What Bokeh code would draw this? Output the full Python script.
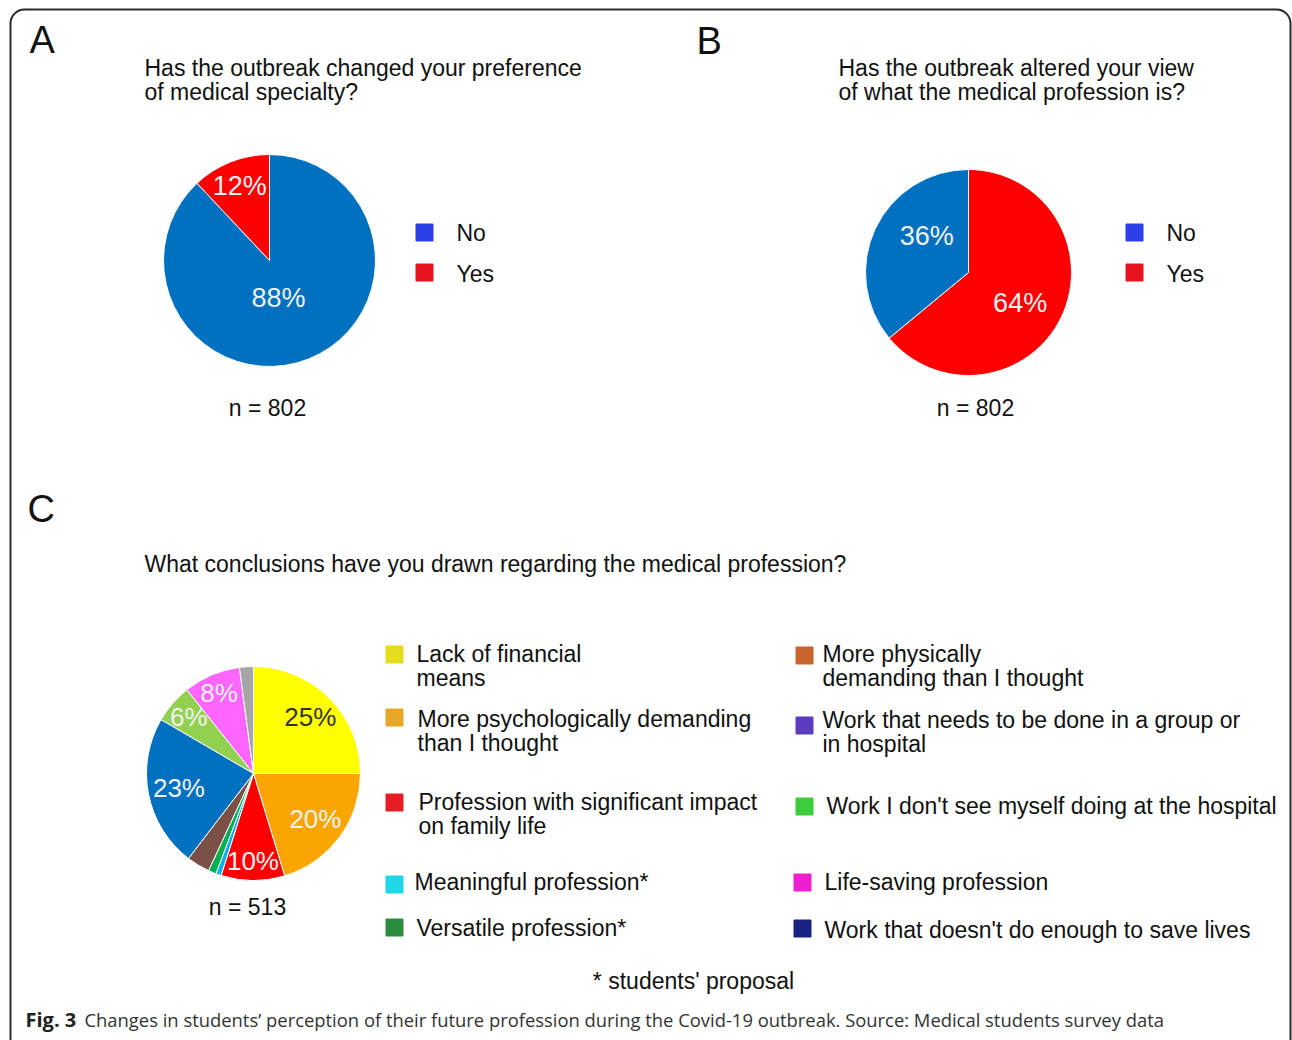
import numpy as np
from bokeh.plotting import figure
from bokeh.models import Range1d
from bokeh.core.properties import value
from bokeh.embed import file_html
from bokeh.resources import INLINE

# ---------------- data ----------------
a_title = ["Has the outbreak changed your preference", "of medical specialty?"]
b_title = ["Has the outbreak altered your view", "of what the medical profession is?"]
c_title = "What conclusions have you drawn regarding the medical profession?"

ab_cats = ["No", "Yes"]
a_values = [88, 12]
b_values = [36, 64]
a_n = "n = 802"
b_n = "n = 802"

c_cats = [
    "Lack of financial\nmeans",
    "More psychologically demanding\nthan I thought",
    "Profession with significant impact\non family life",
    "Meaningful profession*",
    "Versatile profession*",
    "More physically\ndemanding than I thought",
    "Work that needs to be done in a group or\nin hospital",
    "Work I don't see myself doing at the hospital",
    "Life-saving profession",
    "Work that doesn't do enough to save lives",
]
c_values = [25.0, 20.3, 9.6, 0.8, 1.2, 3.5, 23.0, 5.9, 8.6, 2.1]
c_labels = ["25%", "20%", "10%", "", "", "", "23%", "6%", "8%", ""]
c_n = "n = 513"
footnote = "* students' proposal"
caption_bold = "Fig. 3"
caption_text = ("Changes in students\u2019 perception of their future profession during the "
                "Covid-19 outbreak. Source: Medical students survey data")

# ---------------- styles ----------------
ab_pie_colors = ["#0070c0", "#ff0000"]
ab_leg_colors = ["#2d3fe6", "#e5141e"]
c_pie_colors = ["#ffff00", "#fba600", "#ff0000", "#00b0f0", "#00b050",
                "#7b5046", "#0070c0", "#92d050", "#ff66ff", "#a6a6a6"]
c_leg_colors = ["#e6dc1e", "#e8a628", "#e81c24", "#1ed8ea", "#2a8c3c",
                "#c8642e", "#5c3cbe", "#3ccc3c", "#f01ed2", "#1a2282"]

FONT = value("Liberation Sans")
TXT = "#111111"
FS = "23px"

W, H = 1292, 1040
p = figure(width=W, height=H, x_range=Range1d(0, W), y_range=Range1d(-H, 0),
           output_backend="svg", toolbar_location=None, min_border=0,
           x_axis_location=None, y_axis_location=None, background_fill_color="white",
           border_fill_color="white", outline_line_color=None)
p.grid.visible = False


def draw_pie(cx, cy, r, values, colors, labels, fracs, nudges, lab_colors, fsize):
    v = np.array(values, dtype=float)
    f = v / v.sum()
    cum = np.concatenate([[0.0], np.cumsum(f)])
    start = np.pi / 2 - 2 * np.pi * cum[:-1]
    end = np.pi / 2 - 2 * np.pi * cum[1:]
    p.wedge(x=[cx] * len(v), y=[-cy] * len(v), radius=r, start_angle=list(start),
            end_angle=list(end), direction="clock", fill_color=colors,
            line_color="white", line_width=1)
    mid = (start + end) / 2 - np.radians(nudges)
    lx = cx + np.array(fracs) * r * np.cos(mid)
    ly = -cy + np.array(fracs) * r * np.sin(mid)
    p.text(x=list(lx), y=list(ly), text=labels, text_color=lab_colors,
           text_font=FONT, text_font_size=fsize, text_align="center",
           text_baseline="middle")


def txt(x, y, s, size=FS, align="left", font=FONT, style="normal", color=TXT, dy=-2):
    p.text(x=[x], y=[-(y + dy)], text=[s], text_font=font, text_font_size=size,
           text_align=align, text_baseline="middle", text_color=color,
           text_font_style=style)


# border
p.quad(left=10, right=1290, top=-9, bottom=-1090, fill_color=None,
       line_color="#2a2a2a", line_width=2, border_radius=14)

# panel letters
txt(29, 41, "A", size="38px")
txt(696, 42, "B", size="38px")
txt(27, 510, "C", size="38px")

# ----- panel A -----
for i, s in enumerate(a_title):
    txt(144, 69 + 24 * i, s)
draw_pie(269, 260, 106, a_values, ab_pie_colors, ["88%", "12%"], [0.36, 0.76], [8, 0],
         ["#f2f2f2", "#f2f2f2"], "27px")
p.scatter(x=[424, 424], y=[-232, -272], size=17, marker="square", fill_color=ab_leg_colors,
          line_color=ab_leg_colors)
for i, s in enumerate(ab_cats):
    txt(456, 234 + 41 * i, s)
txt(267, 409, a_n, align="center")

# ----- panel B (Yes drawn first, clockwise from top) -----
for i, s in enumerate(b_title):
    txt(838, 69 + 24 * i, s)
draw_pie(968, 272, 103, b_values[::-1], ab_pie_colors[::-1], ["64%", "36%"], [0.58, 0.54],
         [5, 16], ["#f2f2f2", "#f2f2f2"], "27px")
p.scatter(x=[1134, 1134], y=[-232, -272], size=17, marker="square", fill_color=ab_leg_colors,
          line_color=ab_leg_colors)
for i, s in enumerate(ab_cats):
    txt(1166, 234 + 41 * i, s)
txt(975, 409, b_n, align="center")

# ----- panel C -----
txt(144, 565, c_title)
c_fracs = [0.75, 0.72, 0.82, 0.8, 0.8, 0.8, 0.71, 0.8, 0.82, 0.8]
c_lab_colors = ["#333333"] + ["#f2f2f2"] * 9
draw_pie(253, 773, 107, c_values, c_pie_colors, c_labels, c_fracs, [0] * 10,
         c_lab_colors, "26px")
txt(247, 908, c_n, align="center")

leg_sq_x = [394, 394, 394, 394, 394, 804, 804, 804, 802, 802]
leg_sq_y = [654, 717, 802, 884, 927, 655, 725, 806, 882, 928]
leg_tx_x = [416, 417, 418, 414, 416, 822, 822, 826, 824, 824]
leg_tx_y = [655, 720, 803, 883, 929, 655, 721, 807, 883, 931]
p.scatter(x=leg_sq_x, y=[-v for v in leg_sq_y], size=17, marker="square",
          fill_color=c_leg_colors, line_color=c_leg_colors)
for i, cat in enumerate(c_cats):
    for j, line in enumerate(cat.split("\n")):
        txt(leg_tx_x[i], leg_tx_y[i] + 24 * j, line)

txt(693, 982, footnote, align="center")

# caption
CAP = value("Open Sans")
txt(25, 1020, caption_bold, size="20px", font=CAP, style="bold", color="#222222", dy=-1)
txt(84, 1020, caption_text, size="18.4px", font=CAP, color="#333333", dy=-1)

open("out.html", "w").write(file_html(p, INLINE))
